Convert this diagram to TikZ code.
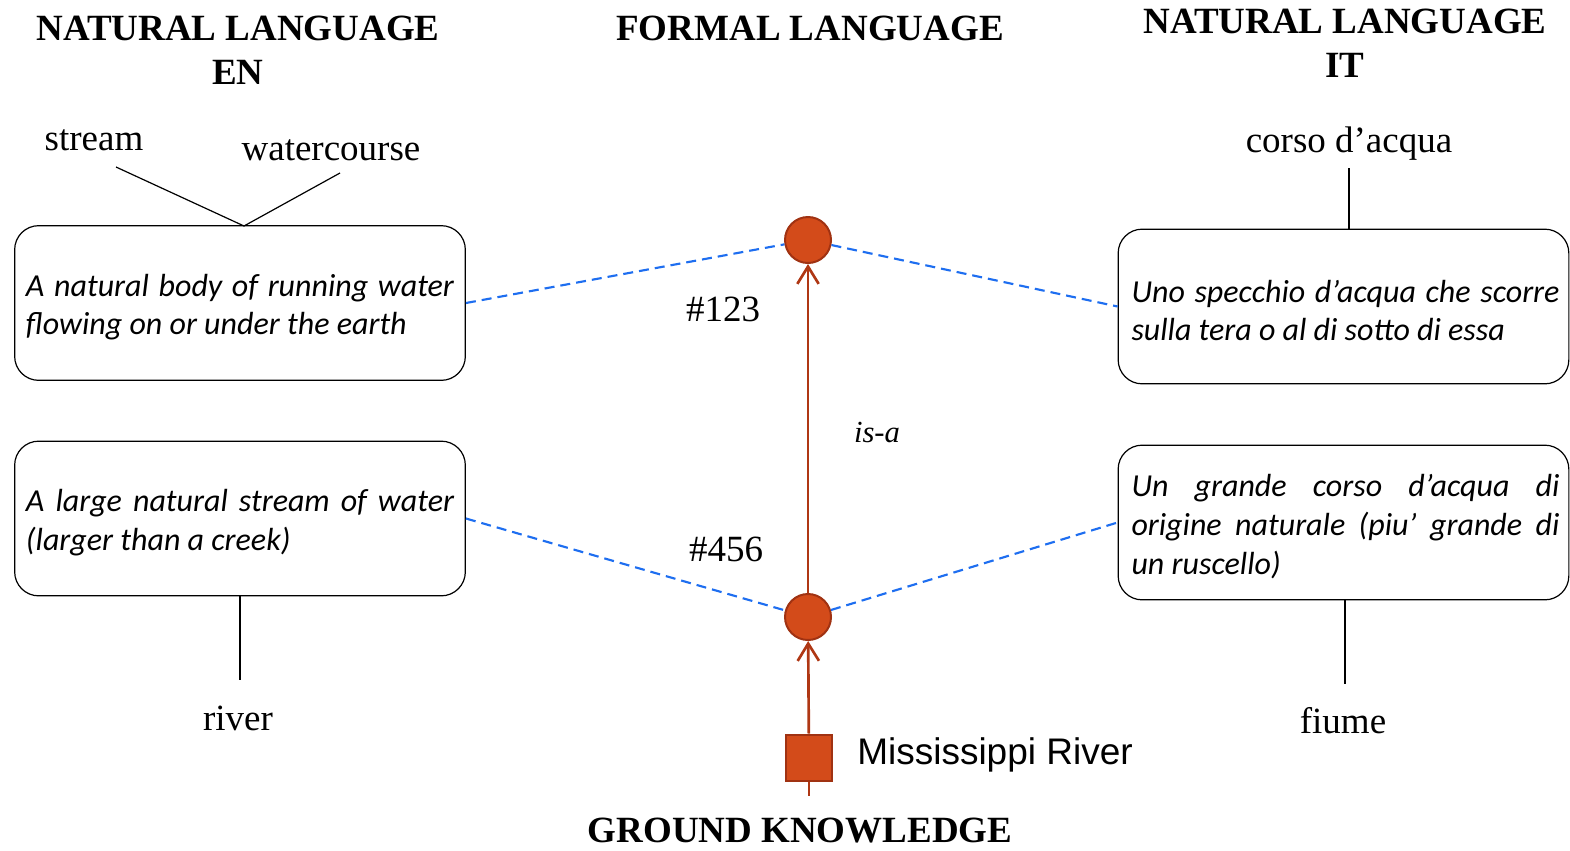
\documentclass[tikz,border=0pt]{standalone}
\usepackage{fontspec}
\setmainfont{Liberation Serif}
\newfontfamily\calib{Carlito}
\newfontfamily\arialf{Liberation Sans}
\usetikzlibrary{arrows.meta}
\definecolor{nodefill}{RGB}{211,75,26}
\definecolor{nodeedge}{RGB}{160,50,18}
\definecolor{linkred}{RGB}{175,55,20}
\definecolor{dashblue}{RGB}{30,110,240}
\hbadness=10000
\begin{document}
\begin{tikzpicture}[x=0.75pt,y=-0.75pt,
  head/.style={font=\fontsize{27.75}{33}\selectfont\bfseries, align=center, inner sep=0pt},
  word/.style={font=\fontsize{27.75}{33}\selectfont, inner sep=0pt},
  glossbox/.style={draw=black, line width=0.9pt, rounded corners=18pt,
    minimum width=338pt, minimum height=116pt, inner sep=0pt},
  glosstext/.style={text width=321pt, inner sep=0pt, align=justify,
    font=\fontsize{24}{29}\calib\itshape},
  concept/.style={circle, fill=nodefill, draw=nodeedge, line width=1.5pt,
    minimum size=34.5pt, inner sep=0pt},
  inst/.style={rectangle, fill=nodefill, draw=nodeedge, line width=1.5pt,
    minimum size=35pt, inner sep=0pt},
  isa/.style={draw=linkred, line width=2pt,
    -{Straight Barb[length=13pt,width=16pt,line width=2pt]}},
  redline/.style={draw=linkred, line width=2pt},
  link/.style={draw=dashblue, line width=1.6pt, dash pattern=on 7.5pt off 4.5pt},
  lex/.style={draw=black, line width=0.9pt}
]
\useasboundingbox (0,0) rectangle (1570,850);

% column headings
\node[head] (hen) at (238,50) {NATURAL LANGUAGE\\EN};
\node[head] (hfl) at (810,28) {FORMAL LANGUAGE};
\node[head] (hit) at (1345,43) {NATURAL LANGUAGE\\IT};
\node[head] (hgk) at (800,831) {GROUND KNOWLEDGE};

% gloss boxes
\node[glossbox] (g1en) at (240,303) {};
\node[glossbox] (g2en) at (240,518.5) {};
\node[glossbox] (g1it) at (1343.5,306.5) {};
\node[glossbox] (g2it) at (1343.5,522.5) {};

% gloss texts
\node[glosstext, yshift=-3pt] (t1en) at (g1en.center) {A natural body of running water\linebreak flowing on or under the earth};
\node[glosstext, yshift=-3pt] (t2en) at (g2en.center) {A large natural stream of water\linebreak (larger than a creek)};
\node[glosstext, yshift=-3pt, xshift=1.5pt] (t1it) at (g1it.center) {Uno specchio d’acqua che scorre\linebreak sulla tera o al di sotto di essa};
\node[glosstext, yshift=-3pt, xshift=1.5pt] (t2it) at (g2it.center) {Un grande corso d’acqua di\linebreak origine naturale (piu’ grande di\linebreak un ruscello)};

% words
\node[word] (wstream) at (94,140) {stream};
\node[word] (wwater) at (331,150) {watercourse};
\node[word] (wcorso) at (1349,144) {corso d’acqua};
\node[word] (wriver) at (238,718) {river};
\node[word] (wfiume) at (1343,721) {fiume};

\coordinate (apex) at (244,226);
\coordinate (sEnd) at (116,167);
\coordinate (wEnd) at (340,173);
\coordinate (cEnd) at (1349,168);
\coordinate (rEnd) at (240,680);
\coordinate (fEnd) at (1345,684);

\draw[lex] (sEnd) -- (apex) -- (wEnd);
\draw[lex] (cEnd) -- (g1it.north -| cEnd);
\draw[lex] (g2en.south -| rEnd) -- (rEnd);
\draw[lex] (g2it.south -| fEnd) -- (fEnd);

% concepts and instance
\node[concept] (c123) at (808,240) {};
\node[concept] (c456) at (808,617) {};
\node[inst] (miss) at (809,758) {};
\coordinate (tail) at (809,796);

\node[font=\fontsize{27.75}{33}\selectfont, inner sep=0pt] (l123) at (723,309) {\#123};
\node[font=\fontsize{27.75}{33}\selectfont, inner sep=0pt] (l456) at (726,549) {\#456};
\node[font=\fontsize{23}{28}\selectfont\itshape, inner sep=0pt] (lisa) at (877,432) {is-a};
\node[font=\fontsize{27.75}{33}\arialf, inner sep=0pt, anchor=west] (lmiss) at (857,755) {Mississippi River};

\draw[isa] (c456) -- (c123);
\draw[isa] (miss) -- (c456);
\draw[redline] (miss) -- (tail);

% lexical links
\draw[link] (g1en.east) -- (c123);
\draw[link] (c123) -- (g1it.west);
\draw[link] (g2en.east) -- (c456);
\draw[link] (c456) -- (g2it.west);
\end{tikzpicture}
\end{document}
